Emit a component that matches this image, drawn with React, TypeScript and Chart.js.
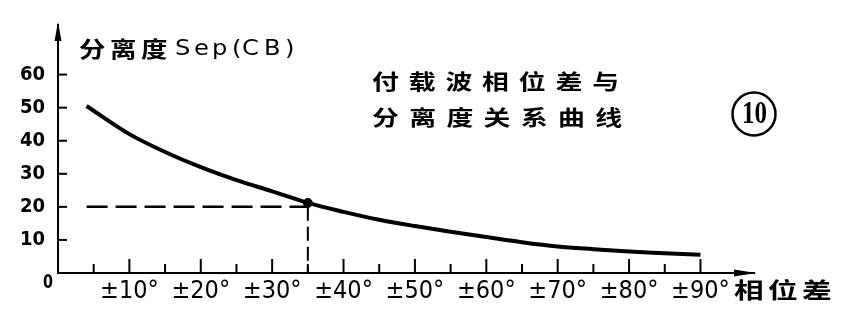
import React, { useEffect, useRef } from "react";
import { Chart, registerables } from "chart.js";

Chart.register(...registerables);

// Subcarrier phase difference (degrees) and separation (dB)
const phaseDeg = [4, 10, 15, 20, 25, 30, 35, 40, 45, 50, 55, 60, 65, 70, 75, 80, 85, 90];
const separationDb = [50.5, 42, 36.6, 32, 28.1, 24.7, 21.2, 18.5, 16.1, 14.2, 12.5, 10.9, 9.3, 8, 7.2, 6.5, 6, 5.5];
const markPhase = 35;
const markSep = 21.2;
const refSep = 20;
const xLabelValues = [10, 20, 30, 40, 50, 60, 70, 80, 90];
const yLabelValues = [10, 20, 30, 40, 50, 60];
const yTitleCjk = "分离度";
const yTitleLatin = "Sep(CB)";
const xTitle = "相位差";
const noteLine1 = "付载波相位差与";
const noteLine2 = "分离度关系曲线";
const figNo = "10";
const originLabel = "0";

const NUM_FONT = '"Liberation Sans Narrow", "DejaVu Sans Condensed", sans-serif';
const CJK_FONT = '"Noto Sans CJK SC", sans-serif';

function drawChars(
  ctx: CanvasRenderingContext2D,
  text: string,
  xLeft: number,
  pitch: number,
  yCenter: number,
  font: string,
  sx: number,
  offsets?: number[]
) {
  const chars = Array.from(text);
  chars.forEach((ch, i) => {
    ctx.save();
    ctx.font = font;
    ctx.textBaseline = "middle";
    ctx.textAlign = "left";
    ctx.fillStyle = "#000";
    ctx.translate(xLeft + (offsets ? offsets[i] : i * pitch), yCenter);
    ctx.scale(sx, 1);
    ctx.fillText(ch, 0, 0);
    ctx.restore();
  });
}

function fitText(
  ctx: CanvasRenderingContext2D,
  text: string,
  xLeft: number,
  yCenter: number,
  font: string,
  width: number
) {
  ctx.save();
  ctx.font = font;
  ctx.textBaseline = "middle";
  ctx.textAlign = "left";
  const w = ctx.measureText(text).width;
  ctx.translate(xLeft, yCenter);
  ctx.scale(width / w, 1);
  ctx.fillStyle = "#000";
  ctx.fillText(text, 0, 0);
  ctx.restore();
}

const decorPlugin = {
  id: "decor",
  afterDraw(chart: any) {
    const ctx: CanvasRenderingContext2D = chart.ctx;
    const xs = chart.scales.x;
    const ys = chart.scales.y;
    const area = chart.chartArea;
    ctx.save();
    ctx.strokeStyle = "#000";
    ctx.fillStyle = "#000";
    ctx.lineWidth = 2;
    // x ticks (inward)
    xs.ticks.forEach((t: any) => {
      if (t.value <= 0 || t.value > 90) return;
      const px = xs.getPixelForValue(t.value);
      const len = t.value % 10 === 0 ? 14 : 9;
      ctx.beginPath();
      ctx.moveTo(px, area.bottom);
      ctx.lineTo(px, area.bottom - len);
      ctx.stroke();
    });
    // y ticks (inward)
    ys.ticks.forEach((t: any) => {
      if (t.value <= 0 || t.value > 60) return;
      const py = ys.getPixelForValue(t.value);
      ctx.beginPath();
      ctx.moveTo(area.left, py);
      ctx.lineTo(area.left + 9, py);
      ctx.stroke();
    });
    // y arrow
    ctx.beginPath();
    ctx.moveTo(area.left, area.top - 3);
    ctx.lineTo(area.left - 3.5, area.top + 16);
    ctx.lineTo(area.left + 3.5, area.top + 16);
    ctx.closePath();
    ctx.fill();
    // x arrow
    ctx.beginPath();
    ctx.moveTo(area.right + 2, area.bottom);
    ctx.lineTo(area.right - 20, area.bottom - 3.5);
    ctx.lineTo(area.right - 20, area.bottom + 3.5);
    ctx.closePath();
    ctx.fill();
    ctx.restore();

    // texts
    drawChars(ctx, yTitleCjk, 79, 31, 49, `bold 22px ${CJK_FONT}`, 1.2);
    drawChars(ctx, yTitleLatin, 175, 0, 49, `22px "DejaVu Sans", sans-serif`, 1.1, [0, 19, 37, 57, 67, 89, 110]);
    drawChars(ctx, noteLine1, 372, 36.7, 81, `bold 21px ${CJK_FONT}`, 1.28);
    drawChars(ctx, noteLine2, 372, 37.2, 117, `bold 21px ${CJK_FONT}`, 1.28);
    drawChars(ctx, xTitle, 734, 34, 290, `bold 22px ${CJK_FONT}`, 1.35);
    fitText(ctx, originLabel, 43, 283, `bold 19px ${NUM_FONT}`, 10);

    // figure number circle
    ctx.save();
    ctx.lineWidth = 2.5;
    ctx.strokeStyle = "#000";
    ctx.beginPath();
    ctx.arc(754, 114, 21.5, 0, Math.PI * 2);
    ctx.stroke();
    ctx.restore();
    fitText(ctx, figNo, 742, 115, `bold 32px "Liberation Serif", serif`, 25);
  },
};

export default function App() {
  const ref = useRef<HTMLCanvasElement | null>(null);
  useEffect(() => {
    if (!ref.current) return;
    const curve = phaseDeg.map((x, i) => ({ x, y: separationDb[i] }));
    const chart = new Chart(ref.current, {
      type: "line",
      data: {
        datasets: [
          {
            data: curve,
            borderColor: "#000",
            borderWidth: 4,
            pointRadius: 0,
            cubicInterpolationMode: "monotone",
            fill: false,
          },
          {
            data: [
              { x: phaseDeg[0], y: refSep },
              { x: markPhase, y: refSep },
            ],
            borderColor: "#000",
            borderWidth: 2.5,
            borderDash: [21, 8],
            pointRadius: 0,
            fill: false,
          },
          {
            data: [
              { x: markPhase, y: refSep },
              { x: markPhase, y: 0 },
            ],
            borderColor: "#000",
            borderWidth: 2,
            borderDash: [14, 6],
            pointRadius: 0,
            fill: false,
          },
          {
            data: [{ x: markPhase, y: markSep }],
            showLine: false,
            pointRadius: 4.5,
            pointBackgroundColor: "#000",
            pointBorderColor: "#000",
          },
        ],
      },
      options: {
        animation: false,
        responsive: true,
        maintainAspectRatio: false,
        layout: { padding: { top: 11, right: 93, left: 0, bottom: 0 } },
        plugins: { legend: { display: false }, tooltip: { enabled: false } },
        scales: {
          x: {
            type: "linear",
            min: 0,
            max: 97.5,
            afterBuildTicks: (axis: any) => {
              const t = [];
              for (let v = 0; v <= 90; v += 5) t.push({ value: v });
              axis.ticks = t;
            },
            afterFit: (s: any) => {
              s.height = 38;
            },
            grid: { display: false, drawTicks: false },
            border: { display: true, color: "#000", width: 2 },
            ticks: {
              autoSkip: false,
              maxRotation: 0,
              padding: 3,
              color: "#000",
              font: { family: NUM_FONT, size: 25 },
              callback: (v: any) => (xLabelValues.includes(Number(v)) ? `±${v}°` : ""),
            },
          },
          y: {
            type: "linear",
            min: 0,
            max: 75,
            afterBuildTicks: (axis: any) => {
              axis.ticks = yLabelValues.map((v) => ({ value: v }));
            },
            afterFit: (s: any) => {
              s.width = 58;
            },
            grid: { display: false, drawTicks: false },
            border: { display: true, color: "#000", width: 2 },
            ticks: {
              autoSkip: false,
              padding: 13,
              color: "#000",
              font: { family: NUM_FONT, size: 20, weight: "bold" },
            },
          },
        },
      },
      plugins: [decorPlugin],
    });
    return () => chart.destroy();
  }, []);
  return (
    <div
      style={{
        position: "absolute",
        left: 0,
        top: 0,
        width: 847,
        height: 311,
        background: "#fff",
      }}
    >
      <canvas ref={ref} />
    </div>
  );
}
